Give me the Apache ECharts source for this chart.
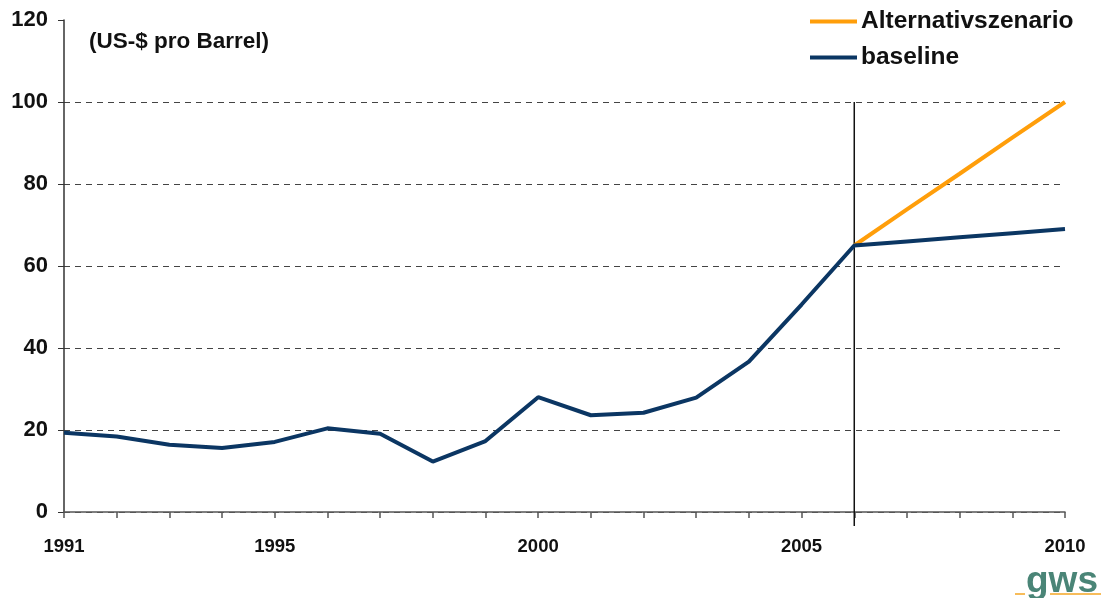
<!DOCTYPE html>
<html><head><meta charset="utf-8">
<script src="https://cdn.jsdelivr.net/npm/echarts@6/dist/echarts.min.js"></script>
<style>html,body{margin:0;padding:0;background:#fff}#c{width:1102px;height:598px}</style>
</head><body><div id="c"></div>
<script>
const years = ['1991','1992','1993','1994','1995','1996','1997','1998','1999','2000','2001','2002','2003','2004','2005','2006','2007','2008','2009','2010'];
const labeledYears = ['1991','1995','2000','2005','2010'];
const baseline = [19.3,18.4,16.4,15.6,17.1,20.4,19.1,12.3,17.3,28.0,23.6,24.2,27.9,36.7,50.6,65.0,66.0,67.0,68.0,69.0];
const alternativ = [null,null,null,null,null,null,null,null,null,null,null,null,null,null,null,65.0,73.8,82.5,91.3,100.0];
const unitLabel = '(US-$ pro Barrel)';
const dividerYear = '2006';
const dividerTop = 100;

const FONT = '"Liberation Sans", Arial, sans-serif';
const chart = echarts.init(document.getElementById('c'));
chart.setOption({
  animation: false,
  backgroundColor: '#fff',
  textStyle: {fontFamily: FONT},
  grid: {left: 64, right: 37, top: 20, bottom: 86},
  title: {text: unitLabel, left: 84, top: 25, textStyle: {fontFamily: FONT, fontWeight: 'bold', fontSize: 22.5, color: '#111'}},
  legend: {
    orient: 'vertical', left: 805, top: 4, itemWidth: 47, itemHeight: 4, itemGap: 11, icon: 'rect',
    textStyle: {fontFamily: FONT, fontWeight: 'bold', fontSize: 24.5, color: '#111', padding: [0,0,0,-1]},
    data: ['Alternativszenario', 'baseline']
  },
  xAxis: {
    type: 'category', data: years, boundaryGap: false,
    axisLine: {lineStyle: {color: '#555', width: 1.5}},
    axisTick: {interval: 0, length: 6, lineStyle: {color: '#555', width: 1.5}},
    axisLabel: {interval: (i, v) => labeledYears.includes(v), margin: 25, fontFamily: FONT, fontWeight: 'bold', fontSize: 18.5, color: '#111'},
    splitLine: {show: false}
  },
  yAxis: {
    type: 'value', min: 0, max: 120, interval: 20,
    axisLine: {show: true, lineStyle: {color: '#333', width: 1.5}},
    axisTick: {show: true, length: 6, lineStyle: {color: '#333'}},
    axisLabel: {margin: 16, fontFamily: FONT, fontWeight: 'bold', fontSize: 22, color: '#111'},
    splitLine: {show: true, lineStyle: {type: [6, 5], width: 1, color: ['#555','#444','#444','#444','#444','#444','rgba(0,0,0,0)']}}
  },
  series: [
    {name: 'Alternativszenario', type: 'line', data: alternativ, symbol: 'none', connectNulls: false,
     lineStyle: {color: '#FF9E0A', width: 4}, itemStyle: {color: '#FF9E0A'}, z: 2},
    {name: 'baseline', type: 'line', data: baseline, symbol: 'none',
     lineStyle: {color: '#0B3663', width: 4}, itemStyle: {color: '#0B3663'}, z: 3}
  ]
});
const pTop = chart.convertToPixel({gridIndex: 0}, [dividerYear, dividerTop]);
const pBot = chart.convertToPixel({gridIndex: 0}, [dividerYear, 0]);
chart.setOption({
  graphic: [
    {type: 'line', shape: {x1: pTop[0], y1: pTop[1], x2: pBot[0], y2: pBot[1] + 14}, style: {stroke: '#111', lineWidth: 1.5}, z: 1},
    {type: 'text', left: 1026, top: 563, style: {text: 'gws', font: 'bold 37px ' + FONT, fill: '#4A8577'}},
    {type: 'line', shape: {x1: 1015, y1: 594, x2: 1025, y2: 594}, style: {stroke: '#F5A623', lineWidth: 1.5}},
    {type: 'line', shape: {x1: 1050, y1: 594, x2: 1101, y2: 594}, style: {stroke: '#F5A623', lineWidth: 1.5}}
  ]
});
</script></body></html>
